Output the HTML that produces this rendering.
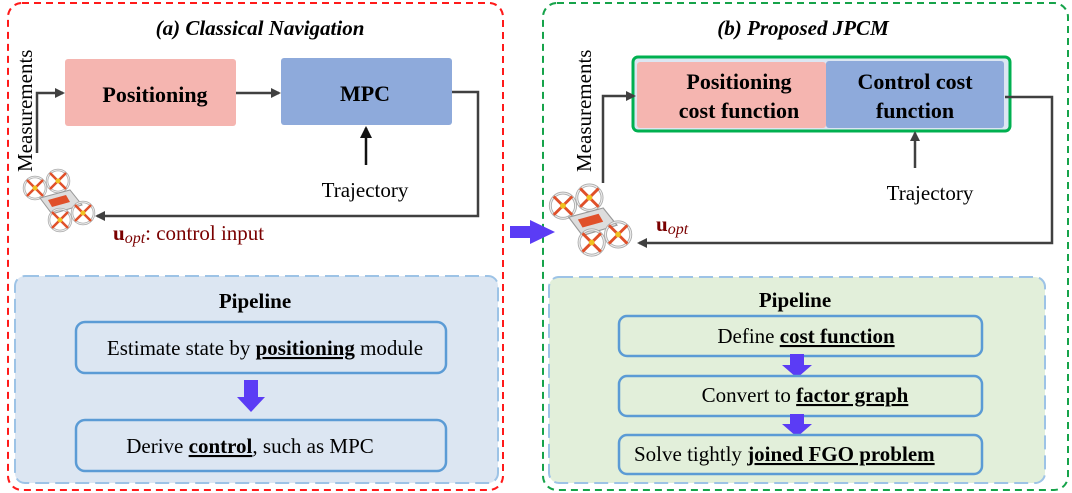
<!DOCTYPE html>
<html><head><meta charset="utf-8"><style>
body{margin:0;background:#fff;}
svg{display:block;}
text{font-family:"Liberation Serif","Times New Roman",Times,serif;fill:#000;}
.b{font-weight:bold;}
</style></head><body>
<svg width="1072" height="493" viewBox="0 0 1072 493" xmlns="http://www.w3.org/2000/svg" font-family="Liberation Serif, Times New Roman, serif">
<defs>
<marker id="ah" markerWidth="10" markerHeight="10" refX="8" refY="5" orient="auto" markerUnits="userSpaceOnUse"><path d="M0,0 L10,5 L0,10 z" fill="#404040"/></marker>
<marker id="ahk" markerWidth="12" markerHeight="12" refX="10" refY="6" orient="auto" markerUnits="userSpaceOnUse"><path d="M0,0 L12,6 L0,12 z" fill="#111"/></marker>
<g id="rotor"><circle r="11" fill="none" stroke="#aaa" stroke-width="2.5"/><circle r="11" fill="none" stroke="#eee" stroke-width="1"/><path d="M-8,-8 L8,8 M-8,8 L8,-8" stroke="#e0502a" stroke-width="2.5"/><circle r="2.5" fill="#f0c020"/></g>
<g id="drone">
<use href="#rotor" x="35" y="188"/><use href="#rotor" x="58" y="181"/>
<path d="M40,198 L70,190 L82,205 L52,214 z" fill="#ddd" stroke="#999"/>
<path d="M48,200 L66,195 L70,202 L52,207 z" fill="#e0502a"/>
<use href="#rotor" x="60" y="220"/><use href="#rotor" x="83" y="213"/>
</g>
</defs>
<rect x="8" y="3" width="495" height="487" rx="14" fill="none" stroke="#ff1a1a" stroke-width="2" stroke-dasharray="7,5"/>
<rect x="543" y="3" width="525" height="487" rx="14" fill="none" stroke="#16a34a" stroke-width="2" stroke-dasharray="7,5"/>
<text x="260" y="35" font-size="21" font-weight="bold" font-style="italic" text-anchor="middle">(a) Classical Navigation</text>
<text x="803" y="35" font-size="21" font-weight="bold" font-style="italic" text-anchor="middle">(b) Proposed JPCM</text>

<rect x="65" y="59" width="171" height="67" rx="3" fill="#f5b5b0"/>
<text x="155" y="102" font-size="22" class="b" text-anchor="middle">Positioning</text>
<rect x="281" y="58" width="171" height="67" rx="3" fill="#8eaadb"/>
<text x="365" y="101" font-size="22" class="b" text-anchor="middle">MPC</text>
<path d="M37,153 V93 H63" fill="none" stroke="#404040" stroke-width="2.5" marker-end="url(#ah)"/>
<path d="M236,93 H279" fill="none" stroke="#404040" stroke-width="2.5" marker-end="url(#ah)"/>
<path d="M452,92 H478 V216 H97" fill="none" stroke="#404040" stroke-width="2.5" marker-end="url(#ah)"/>
<path d="M366,165 V128" fill="none" stroke="#111" stroke-width="2.5" marker-end="url(#ahk)"/>
<text x="365" y="197" font-size="21" text-anchor="middle">Trajectory</text>
<text transform="translate(32,172) rotate(-90)" font-size="21">Measurements</text>
<text x="113" y="240" font-size="21" style="fill:#7a0000"><tspan font-weight="bold">u</tspan><tspan font-style="italic" font-size="16" dy="3">opt</tspan><tspan dy="-3">: control input</tspan></text>
<use href="#drone"/>

<path d="M510,226 H530 V220 L555,232 L530,244 V238 H510 z" fill="#5b3cf5"/>

<rect x="633" y="57" width="377" height="74" rx="5" fill="#dce6f2" stroke="#00b050" stroke-width="3"/>
<rect x="637" y="62" width="189" height="66" rx="3" fill="#f5b5b0"/>
<rect x="826" y="61" width="178" height="67" rx="3" fill="#8eaadb"/>
<text x="739" y="89" font-size="22" class="b" text-anchor="middle">Positioning</text>
<text x="739" y="118" font-size="22" class="b" text-anchor="middle">cost function</text>
<text x="915" y="89" font-size="22" class="b" text-anchor="middle">Control cost</text>
<text x="915" y="118" font-size="22" class="b" text-anchor="middle">function</text>
<path d="M603,183 V96 H634" fill="none" stroke="#404040" stroke-width="2.5" marker-end="url(#ah)"/>
<path d="M1005,97 H1052 V243 H639" fill="none" stroke="#404040" stroke-width="2.5" marker-end="url(#ah)"/>
<path d="M915,168 V133" fill="none" stroke="#404040" stroke-width="2.5" marker-end="url(#ah)"/>
<text x="930" y="200" font-size="21" text-anchor="middle">Trajectory</text>
<text transform="translate(591,172) rotate(-90)" font-size="21">Measurements</text>
<text x="656" y="231" font-size="21" style="fill:#7a0000"><tspan font-weight="bold">u</tspan><tspan font-style="italic" font-size="16" dy="3">opt</tspan></text>
<use href="#drone" transform="translate(548,185) scale(1.15) translate(-22,-170)"/>

<rect x="15" y="276" width="483" height="207" rx="10" fill="#dce6f2" stroke="#9dc3e6" stroke-width="2" stroke-dasharray="14,6"/>
<text x="255" y="308" font-size="21" class="b" text-anchor="middle">Pipeline</text>
<rect x="76" y="322" width="370" height="51" rx="9" fill="#dce6f2" stroke="#5b9bd5" stroke-width="2.5"/>
<text x="265" y="355" font-size="21" text-anchor="middle">Estimate state by <tspan font-weight="bold" text-decoration="underline">positioning</tspan> module</text>
<path d="M244,380 H258 V397 H265 L251,412 L237,397 H244 z" fill="#5b3cf5"/>
<rect x="76" y="420" width="370" height="51" rx="9" fill="#dce6f2" stroke="#5b9bd5" stroke-width="2.5"/>
<text x="250" y="453" font-size="21" text-anchor="middle">Derive <tspan font-weight="bold" text-decoration="underline">control</tspan>, such as MPC</text>

<rect x="549" y="277" width="496" height="206" rx="10" fill="#e2efda" stroke="#9dc3e6" stroke-width="2" stroke-dasharray="14,6"/>
<text x="795" y="307" font-size="21" class="b" text-anchor="middle">Pipeline</text>
<rect x="619" y="316" width="363" height="40" rx="8" fill="#e2efda" stroke="#5b9bd5" stroke-width="2.5"/>
<text x="806" y="343" font-size="21" text-anchor="middle">Define <tspan font-weight="bold" text-decoration="underline">cost function</tspan></text>
<path d="M790,354 H804 V365 H812 L797,378 L782,365 H790 z" fill="#5b3cf5"/>
<rect x="619" y="376" width="363" height="40" rx="8" fill="#e2efda" stroke="#5b9bd5" stroke-width="2.5"/>
<text x="805" y="402" font-size="21" text-anchor="middle">Convert to <tspan font-weight="bold" text-decoration="underline">factor graph</tspan></text>
<path d="M790,414 H804 V424 H812 L797,437 L782,424 H790 z" fill="#5b3cf5"/>
<rect x="619" y="435" width="363" height="39" rx="8" fill="#e2efda" stroke="#5b9bd5" stroke-width="2.5"/>
<text x="634" y="461" font-size="21">Solve tightly <tspan font-weight="bold" text-decoration="underline">joined FGO problem</tspan></text>
</svg>
</body></html>
